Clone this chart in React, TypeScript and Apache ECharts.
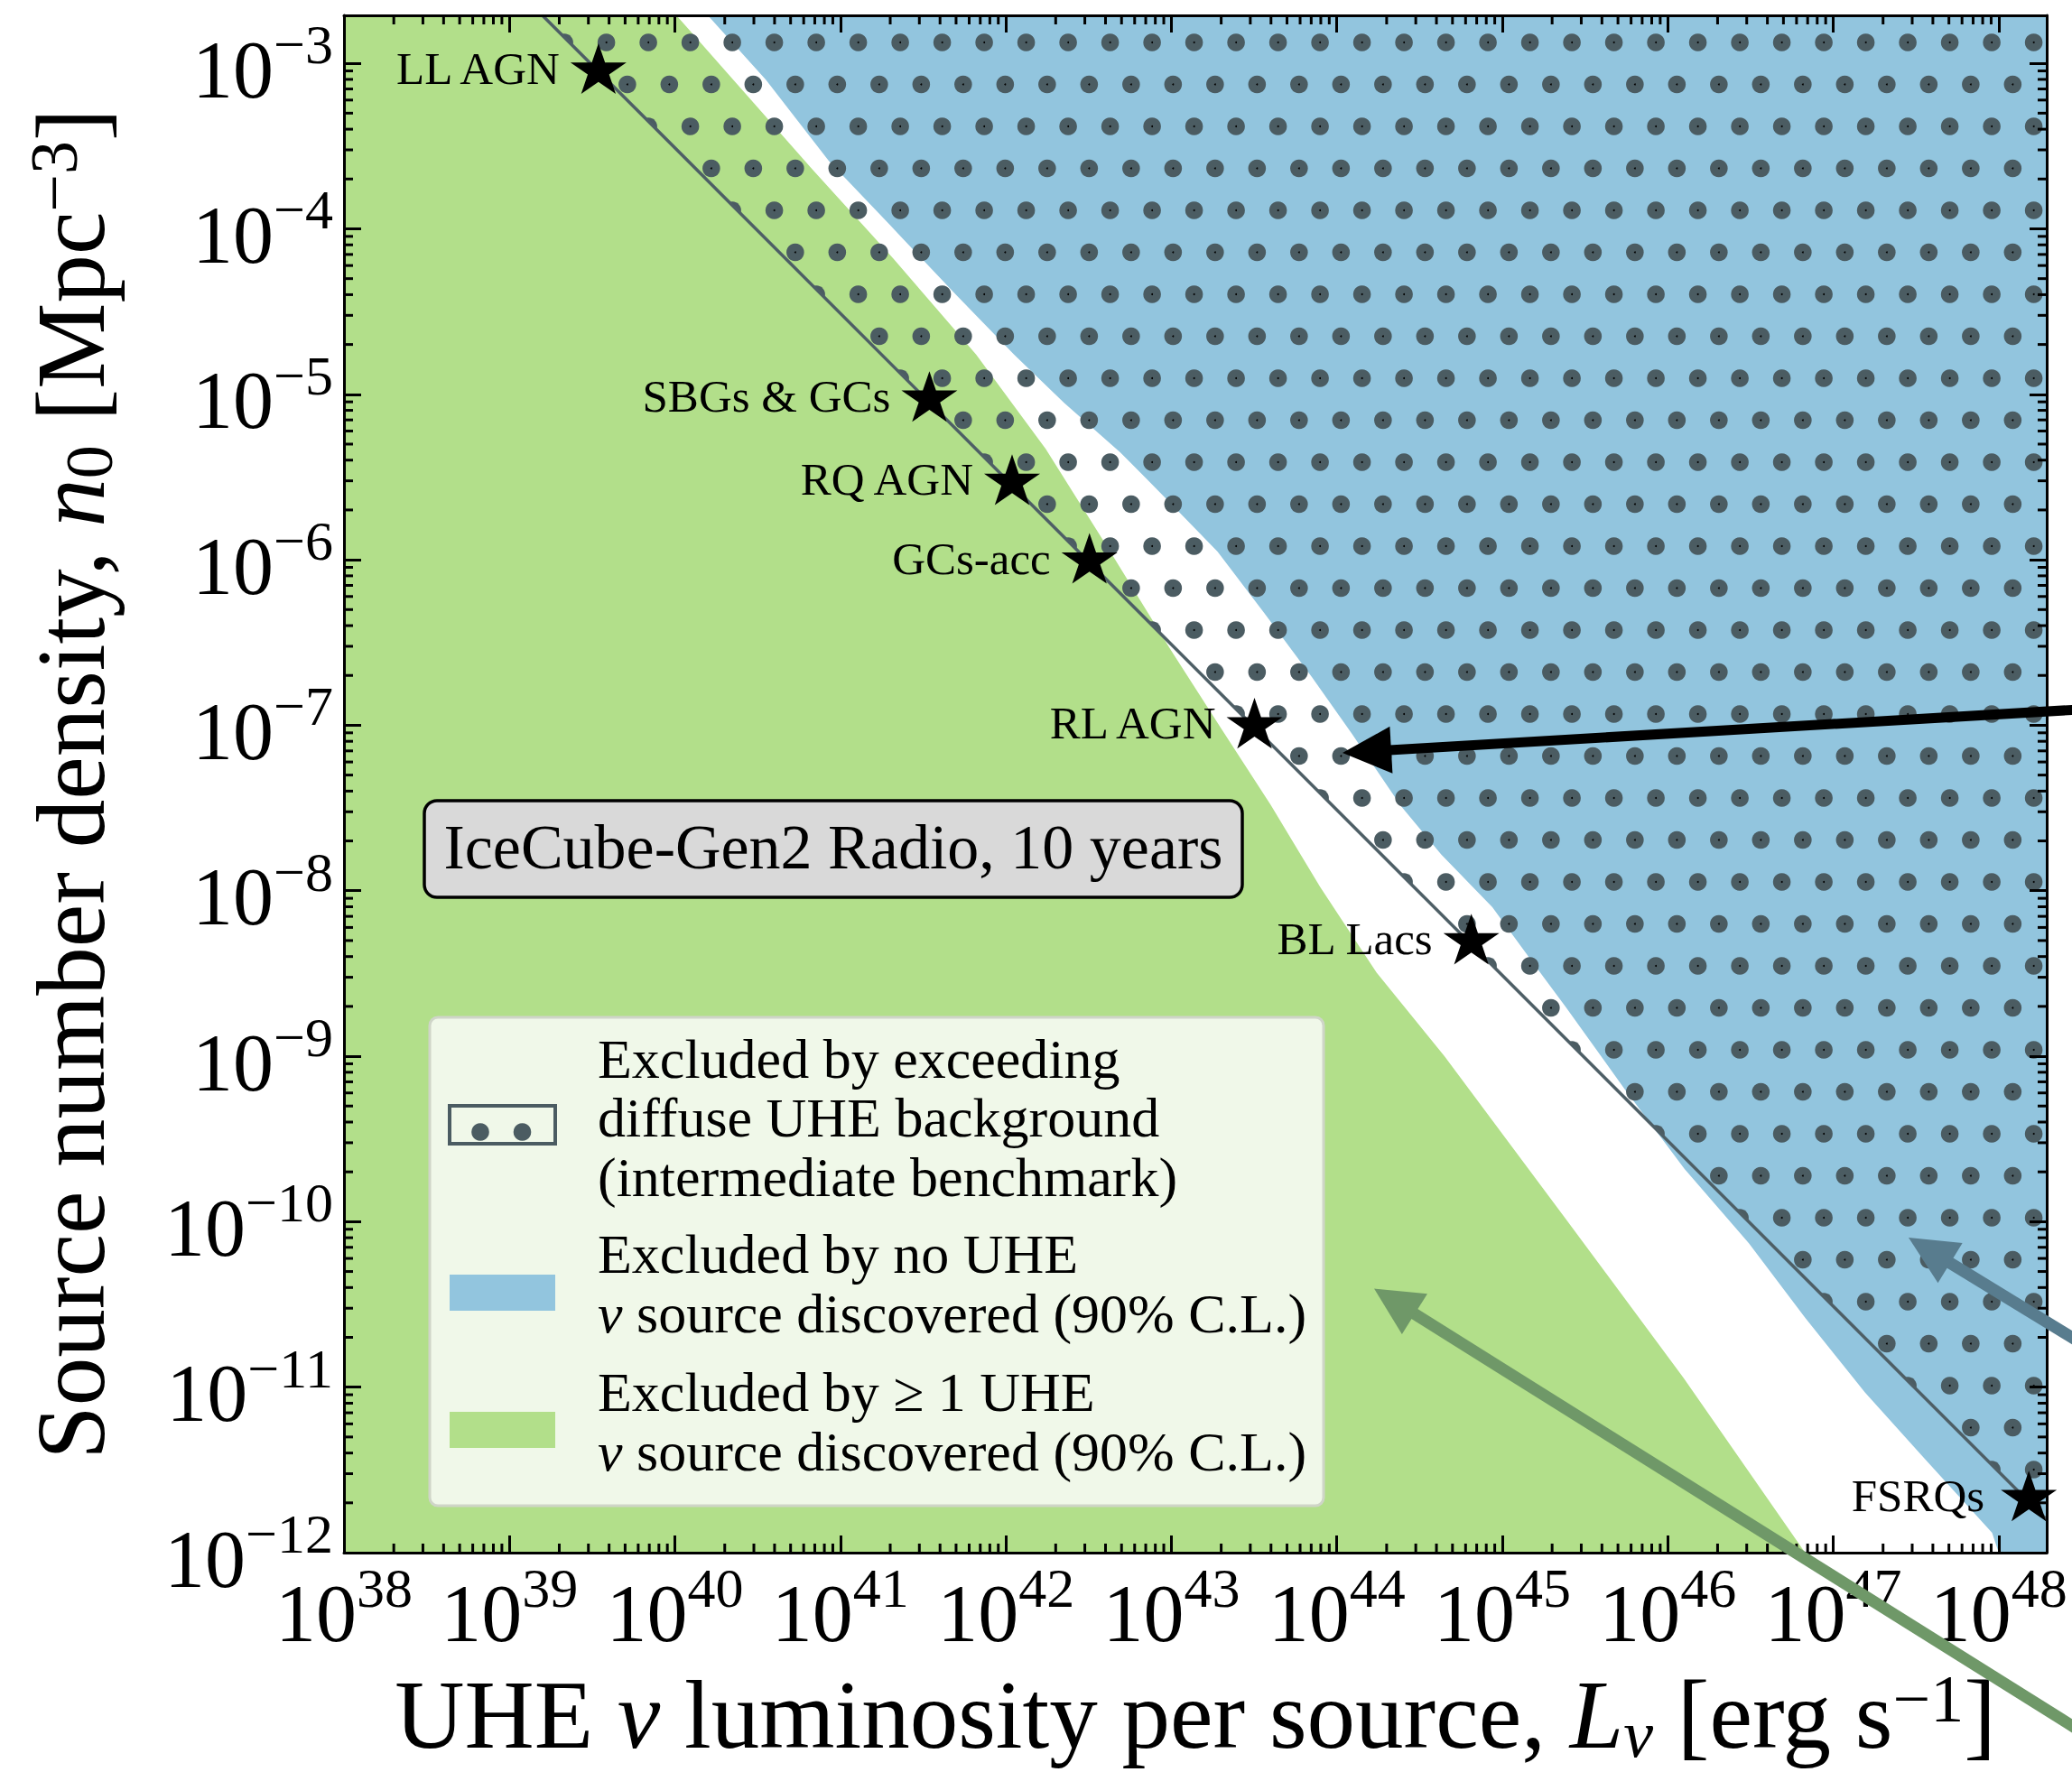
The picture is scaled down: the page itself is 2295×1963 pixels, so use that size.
import React, { useEffect, useRef } from 'react';
import * as echarts from 'echarts';

// ---------------- data (luminosity in erg/s, density in Mpc^-3) ----------------
const L_MIN = 1e38;
const L_MAX = 1.95e48;
const N_MIN = 1e-12;
const N_MAX = 1.95e-3;

const xTickExps = [38, 39, 40, 41, 42, 43, 44, 45, 46, 47, 48];
const yTickExps = [-12, -11, -10, -9, -8, -7, -6, -5, -4, -3];
const minorMultipliers = [2, 3, 4, 5, 6, 7, 8, 9];

// edge of region "Excluded by >= 1 UHE nu source discovered" (green, lower-left)
const greenEdgeL = [1.02e40, 6.76e40, 2.09e41, 6.61e41, 1.74e42, 4.27e42, 1.0e43, 2.0e43, 3.98e43, 7.94e43, 1.74e44, 4.47e44, 2.4e45, 1.26e46, 6.76e46];
const greenEdgeN = [1.95e-3, 2.29e-4, 6.61e-5, 1.74e-5, 4.68e-6, 1.12e-6, 2.82e-7, 9.55e-8, 3.31e-8, 1.05e-8, 3.2e-9, 1.0e-9, 1.05e-10, 1.12e-11, 1.0e-12];

// edge of region "Excluded by no UHE nu source discovered" (blue, upper-right)
const blueEdgeL = [1.58e40, 3.55e40, 8.51e40, 2.0e41, 5.01e41, 1.12e42, 2.24e42, 4.9e42, 9.5e42, 1.9e43, 3.63e43, 7.08e43, 1.23e44, 2.45e44, 4.27e44, 8.71e44, 1.74e45, 2.4e45, 5.5e45, 1.26e46, 3.09e46, 6.76e46, 1.55e47, 3.55e47, 9.12e47, 1.0e48];
const blueEdgeN = [1.95e-3, 7.94e-4, 2.57e-4, 1.05e-4, 3.98e-5, 1.74e-5, 8.91e-6, 4.47e-6, 2.29e-6, 1.12e-6, 4.79e-7, 1.95e-7, 8.91e-8, 3.24e-8, 1.66e-8, 7.94e-9, 3.09e-9, 2.0e-9, 6.31e-10, 2.09e-10, 7.41e-11, 2.63e-11, 9.33e-12, 3.72e-12, 1.32e-12, 1.0e-12];

// diffuse-background bound (hatched region lies above it)
const diffuseLineL = [1.58e39, 1.95e48];
const diffuseLineN = [1.95e-3, 1.58e-12];

// source classes
const sourceNames = ['LL AGN', 'SBGs & GCs', 'RQ AGN', 'GCs-acc', 'RL AGN', 'BL Lacs', 'FSRQs'];
const sourceL = [3.45e39, 3.45e41, 1.09e42, 3.2e42, 3.18e43, 6.5e44, 1.52e48];
const sourceN = [9.3e-4, 9.7e-6, 3.05e-6, 1.02e-6, 1.03e-7, 5.1e-9, 2.2e-12];

const legendTexts = [
  'Excluded by exceeding\ndiffuse UHE background\n(intermediate benchmark)',
  'Excluded by no UHE\n{i|ν} source discovered (90% C.L.)',
  'Excluded by ≥ 1 UHE\n{i|ν} source discovered (90% C.L.)',
];
const boxText = 'IceCube-Gen2 Radio, 10 years';

// ---------------- styles ----------------
const FONT = '"Liberation Serif", "Times New Roman", serif';
const GREEN = '#b2df8a';
const BLUE = '#92c5de';
const HATCH = '#4b5c62';
const LINE_COLOR = '#4e5f66';
const HATCH_X0 = 671.6;
const HATCH_Y0 = 47;
const HATCH_STEP = 46.5;
const HATCH_R = 9.8;

const lg = Math.log10;
const X_MIN = lg(L_MIN);
const X_MAX = lg(L_MAX);
const Y_MIN = lg(N_MIN);
const Y_MAX = lg(N_MAX);

const STAR = 'path://M0,-100L22.45,-30.9L95.1,-30.9L36.33,11.8L58.78,80.9L0,38.2L-58.78,80.9L-36.33,11.8L-95.1,-30.9L-22.45,-30.9Z';

function powLabel(v: number): string {
  const r = Math.round(v);
  if (Math.abs(v - r) > 1e-6) return '';
  const e = r < 0 ? '\u2212' + String(-r) : String(r);
  return `{b|10}{s|${e}}`;
}

const tickRich: any = {
  b: { fontSize: 90, fontFamily: FONT, color: '#000', height: 90, lineHeight: 104, padding: [14, 0, 0, 0], verticalAlign: 'bottom' },
  s: { fontSize: 62, fontFamily: FONT, color: '#000', height: 62, lineHeight: 62, verticalAlign: 'top' },
};

const NS = 107;
const SS = 74;
const nameRich: any = {
  r: { fontSize: NS, fontFamily: FONT, color: '#000', height: NS, lineHeight: 127 },
  i: { fontSize: NS, fontFamily: FONT, fontStyle: 'italic', color: '#000', height: NS, lineHeight: 127 },
  sub: { fontSize: SS, fontFamily: FONT, color: '#000', height: SS, lineHeight: SS, padding: [0, 0, 6, 0], verticalAlign: 'bottom' },
  subi: { fontSize: SS, fontFamily: FONT, fontStyle: 'italic', color: '#000', height: SS, lineHeight: SS, padding: [0, 0, 6, 0], verticalAlign: 'bottom' },
  sup: { fontSize: SS, fontFamily: FONT, color: '#000', height: SS, lineHeight: SS, padding: [8, 0, 0, 0], verticalAlign: 'top' },
};

function axisCommon(min: number, max: number) {
  return {
    type: 'value',
    min,
    max,
    interval: 1,
    z: 10,
    axisLine: { show: true, onZero: false, lineStyle: { color: '#000', width: 3 } },
    axisTick: { show: true, inside: true, length: 19, lineStyle: { color: '#000', width: 3 } },
    splitLine: { show: false },
    minorTick: { show: false },
  };
}

function arrow(x1: number, y1: number, x2: number, y2: number, color: string, w: number, headLen: number, headW: number) {
  const dx = x2 - x1;
  const dy = y2 - y1;
  const len = Math.hypot(dx, dy);
  const ux = dx / len;
  const uy = dy / len;
  const bx = x2 - ux * headLen;
  const by = y2 - uy * headLen;
  const px = -uy;
  const py = ux;
  return [
    { type: 'line', z: 100, silent: true, shape: { x1, y1, x2: bx + ux * 2, y2: by + uy * 2 }, style: { stroke: color, lineWidth: w } },
    {
      type: 'polygon', z: 100, silent: true,
      shape: { points: [[x2, y2], [bx + (px * headW) / 2, by + (py * headW) / 2], [bx - (px * headW) / 2, by - (py * headW) / 2]] },
      style: { fill: color },
    },
  ];
}

function buildOption(): any {
  const greenSeries = {
    type: 'custom',
    name: 'green',
    coordinateSystem: 'cartesian2d',
    clip: true,
    silent: true,
    z: 2,
    data: [[X_MIN, Y_MIN]],
    renderItem: (params: any, api: any) => {
      const pts: number[][] = [api.coord([X_MIN, Y_MIN]), api.coord([X_MIN, Y_MAX])];
      greenEdgeL.forEach((L, i) => pts.push(api.coord([lg(L), lg(greenEdgeN[i])])));
      return { type: 'polygon', shape: { points: pts }, style: { fill: GREEN } };
    },
  };

  const blueSeries = {
    type: 'custom',
    name: 'blue',
    coordinateSystem: 'cartesian2d',
    clip: true,
    silent: true,
    z: 3,
    data: [[X_MAX, Y_MAX]],
    renderItem: (params: any, api: any) => {
      const pts: number[][] = blueEdgeL.map((L, i) => api.coord([lg(L), lg(blueEdgeN[i])]));
      pts.push(api.coord([X_MAX, Y_MIN]));
      pts.push(api.coord([X_MAX, Y_MAX]));
      return { type: 'polygon', shape: { points: pts }, style: { fill: BLUE } };
    },
  };

  const dotSeries = {
    type: 'custom',
    name: 'hatch',
    coordinateSystem: 'cartesian2d',
    clip: true,
    silent: true,
    z: 4,
    data: [[lg(diffuseLineL[0]), lg(diffuseLineN[0])]],
    renderItem: (params: any, api: any) => {
      const cs = params.coordSys;
      const p1 = api.coord([lg(diffuseLineL[0]), lg(diffuseLineN[0])]);
      const p2 = api.coord([lg(diffuseLineL[1]), lg(diffuseLineN[1])]);
      const dl = Math.hypot(p2[0] - p1[0], p2[1] - p1[1]);
      let nx = -(p2[1] - p1[1]) / dl;
      let ny = (p2[0] - p1[0]) / dl;
      const sd0 = (x: number, y: number) => (x - p1[0]) * nx + (y - p1[1]) * ny;
      if (sd0(cs.x + cs.width, cs.y) < 0) {
        nx = -nx;
        ny = -ny;
      }
      const sd = (x: number, y: number) => (x - p1[0]) * nx + (y - p1[1]) * ny;
      const children: any[] = [];
      const N = 28;
      for (let row = -3; row < 200; row++) {
        const y = HATCH_Y0 + row * HATCH_STEP;
        if (y < cs.y - HATCH_R) continue;
        if (y > cs.y + cs.height + HATCH_R) break;
        const off = (((row % 2) + 2) % 2) * (HATCH_STEP / 2);
        const base = HATCH_X0 + off;
        const jStart = Math.floor((cs.x - HATCH_R - base) / HATCH_STEP);
        for (let j = jStart; j < jStart + 200; j++) {
          const x = base + j * HATCH_STEP;
          if (x > cs.x + cs.width + HATCH_R) break;
          const d = sd(x, y);
          if (d <= -HATCH_R) continue;
          if (d >= HATCH_R) {
            children.push({ type: 'circle', shape: { cx: x, cy: y, r: HATCH_R }, style: { fill: HATCH } });
          } else {
            // dot cut by the boundary line, like a clipped hatch
            const ring: number[][] = [];
            for (let k = 0; k < N; k++) {
              const a = (2 * Math.PI * k) / N;
              ring.push([x + HATCH_R * Math.cos(a), y + HATCH_R * Math.sin(a)]);
            }
            const out: number[][] = [];
            for (let k = 0; k < N; k++) {
              const a = ring[k];
              const b = ring[(k + 1) % N];
              const da = sd(a[0], a[1]);
              const db = sd(b[0], b[1]);
              if (da >= 0) out.push(a);
              if ((da >= 0) !== (db >= 0)) {
                const t = da / (da - db);
                out.push([a[0] + t * (b[0] - a[0]), a[1] + t * (b[1] - a[1])]);
              }
            }
            if (out.length >= 3) children.push({ type: 'polygon', shape: { points: out }, style: { fill: HATCH } });
          }
          if (d > 1) children.push({ type: 'circle', shape: { cx: x, cy: y, r: 1 }, style: { fill: '#000' } });
        }
      }
      return { type: 'group', children };
    },
  };

  const lineSeries = {
    type: 'line',
    name: 'diffuse bound',
    silent: true,
    z: 6,
    symbol: 'none',
    lineStyle: { color: LINE_COLOR, width: 3.5 },
    data: diffuseLineL.map((L, i) => [lg(L), lg(diffuseLineN[i])]),
  };

  const minorTickSeries = {
    type: 'custom',
    name: 'minor ticks',
    coordinateSystem: 'cartesian2d',
    clip: false,
    silent: true,
    z: 11,
    data: [[X_MIN, Y_MIN]],
    renderItem: (params: any, api: any) => {
      const cs = params.coordSys;
      const children: any[] = [];
      const len = 10;
      const mk = (x1: number, y1: number, x2: number, y2: number) => ({
        type: 'line', shape: { x1, y1, x2, y2 }, style: { stroke: '#000', lineWidth: 3 },
      });
      xTickExps.forEach((k) => {
        minorMultipliers.forEach((m) => {
          const v = k + lg(m);
          if (v >= X_MAX || v <= X_MIN) return;
          const x = api.coord([v, Y_MIN])[0];
          children.push(mk(x, cs.y + cs.height, x, cs.y + cs.height - len));
          children.push(mk(x, cs.y, x, cs.y + len));
        });
      });
      yTickExps.forEach((k) => {
        minorMultipliers.forEach((m) => {
          const v = k + lg(m);
          if (v >= Y_MAX || v <= Y_MIN) return;
          const y = api.coord([X_MIN, v])[1];
          children.push(mk(cs.x, y, cs.x + len, y));
          children.push(mk(cs.x + cs.width, y, cs.x + cs.width - len, y));
        });
      });
      return { type: 'group', children };
    },
  };

  const starSeries = {
    type: 'scatter',
    name: 'sources',
    silent: true,
    z: 20,
    clip: false,
    symbol: STAR,
    symbolSize: [62, 59],
    symbolKeepAspect: true,
    itemStyle: { color: '#000', opacity: 1 },
    label: {
      show: true,
      position: 'left',
      distance: 12,
      formatter: '{b}',
      fontSize: 51,
      fontFamily: FONT,
      color: '#000',
    },
    data: sourceNames.map((name, i) => ({
      name,
      value: [lg(sourceL[i]), lg(sourceN[i])],
      label: name === 'FSRQs' ? { distance: 18 } : undefined,
    })),
  };

  const legendGraphic: any[] = [
    { type: 'rect', z: 50, silent: true, shape: { x: 476, y: 1127, width: 990, height: 541, r: 9 }, style: { fill: '#f0f8e9', stroke: '#cfd5c8', lineWidth: 3 } },
    { type: 'rect', z: 51, silent: true, shape: { x: 498, y: 1225, width: 117, height: 42 }, style: { fill: 'none', stroke: HATCH, lineWidth: 4 } },
    { type: 'circle', z: 52, silent: true, shape: { cx: 532, cy: 1254, r: HATCH_R }, style: { fill: HATCH } },
    { type: 'circle', z: 52, silent: true, shape: { cx: 578.5, cy: 1254, r: HATCH_R }, style: { fill: HATCH } },
    { type: 'rect', z: 51, silent: true, shape: { x: 498, y: 1412, width: 117, height: 40 }, style: { fill: BLUE } },
    { type: 'rect', z: 51, silent: true, shape: { x: 498, y: 1564, width: 117, height: 40 }, style: { fill: GREEN } },
  ];
  const legendCenters = [1238, 1422, 1575];
  legendTexts.forEach((t, i) => {
    legendGraphic.push({
      type: 'text', z: 52, silent: true, x: 662, y: legendCenters[i],
      style: {
        text: t, fill: '#000', fontSize: 62, fontFamily: FONT, lineHeight: 65.5,
        align: 'left', verticalAlign: 'middle',
        rich: { i: { fontSize: 62, fontFamily: FONT, fontStyle: 'italic', fill: '#000', lineHeight: 65.5 } },
      },
    });
  });

  const boxGraphic: any[] = [
    { type: 'rect', z: 50, silent: true, shape: { x: 470, y: 887, width: 906, height: 107, r: 14 }, style: { fill: '#d9d9d9', stroke: '#000', lineWidth: 3.5 } },
    { type: 'text', z: 51, silent: true, x: 923, y: 938, style: { text: boxText, fill: '#000', fontSize: 70, fontFamily: FONT, align: 'center', verticalAlign: 'middle' } },
  ];

  const arrows = [
    ...arrow(2320, 785, 1487, 834, '#000000', 11, 54, 52),
    ...arrow(2330, 1503, 2114, 1371, '#587c8e', 13, 54, 52),
    ...arrow(2340, 1940, 1522, 1427.5, '#6f9868', 13, 53, 53),
  ];

  return {
    animation: false,
    backgroundColor: '#ffffff',
    textStyle: { fontFamily: FONT },
    grid: { left: 381, right: 28, top: 17, bottom: 243, containLabel: false, outerBoundsMode: 'none' },
    xAxis: [
      {
        ...axisCommon(X_MIN, X_MAX),
        position: 'bottom',
        axisLabel: { show: true, interval: 0, margin: 8, formatter: powLabel, rich: tickRich },
        name: '{r|UHE }{i|ν}{r| luminosity per source, }{i|L}{subi|ν}{r| [erg s}{sup|\u22121}{r|]}',
        nameLocation: 'middle',
        nameGap: 112,
        nameTextStyle: { rich: nameRich, fontSize: NS, fontFamily: FONT, color: '#000' },
      },
      {
        ...axisCommon(X_MIN, X_MAX),
        position: 'top',
        axisLabel: { show: false },
      },
    ],
    yAxis: [
      {
        ...axisCommon(Y_MIN, Y_MAX),
        position: 'left',
        axisLabel: { show: true, interval: 0, margin: 12, formatter: powLabel, rich: tickRich },
        name: '{r|Source number density, }{i|n}{sub|0}{r| [Mpc}{sup|\u22123}{r|]}',
        nameLocation: 'middle',
        nameRotate: 90,
        nameGap: 239,
        nameTextStyle: { rich: nameRich, fontSize: NS, fontFamily: FONT, color: '#000' },
      },
      {
        ...axisCommon(Y_MIN, Y_MAX),
        position: 'right',
        axisLabel: { show: false },
      },
    ],
    series: [greenSeries, blueSeries, dotSeries, lineSeries, minorTickSeries, starSeries],
    graphic: [...legendGraphic, ...boxGraphic, ...arrows],
  };
}

export default function App() {
  const ref = useRef<HTMLDivElement>(null);
  useEffect(() => {
    document.body.style.margin = '0';
    const chart = echarts.init(ref.current as HTMLDivElement, null, { renderer: 'svg' });
    chart.setOption(buildOption());
    return () => {
      chart.dispose();
    };
  }, []);
  return <div ref={ref} style={{ width: 2295, height: 1963, overflow: 'hidden' }} />;
}
